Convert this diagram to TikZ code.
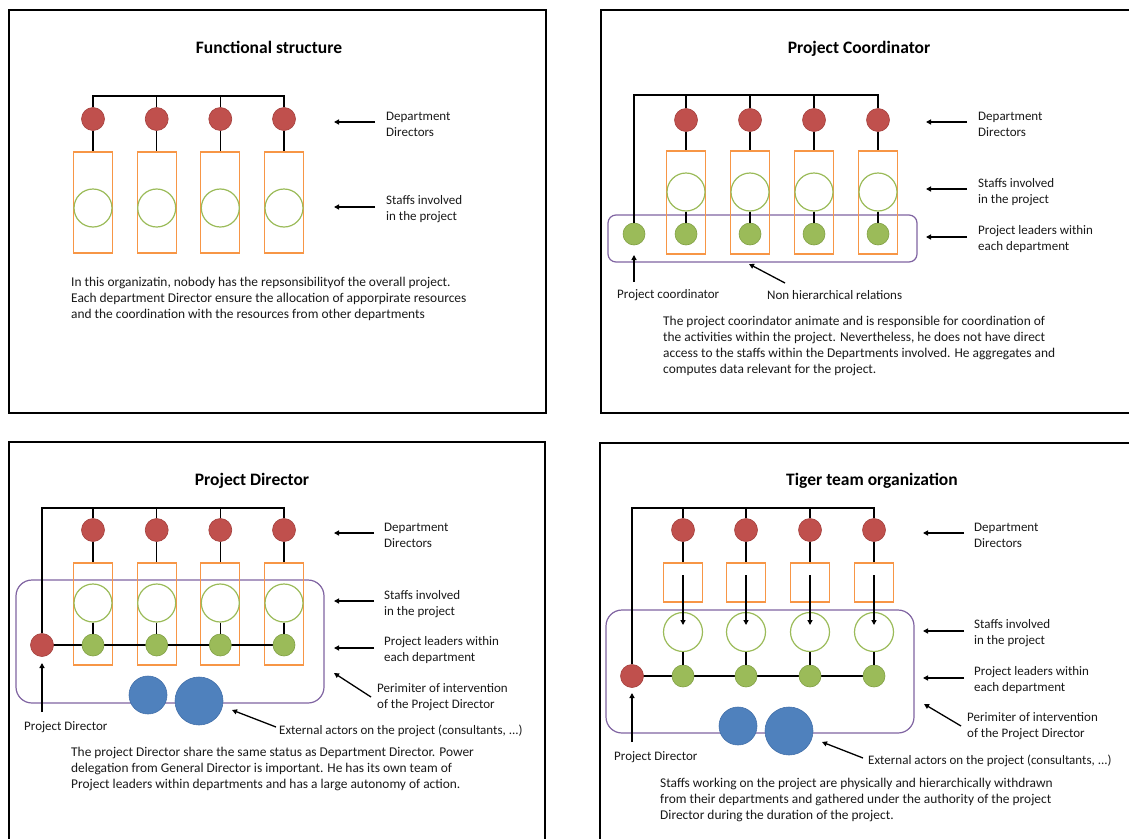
\documentclass[tikz,border=0pt]{standalone}
\usepackage{fontspec}
\setmainfont{Carlito}
\usetikzlibrary{arrows.meta}

\definecolor{dirred}{HTML}{C0504D}
\definecolor{dirredline}{HTML}{A5403D}
\definecolor{leadgreen}{HTML}{9BBB59}
\definecolor{leadline}{HTML}{81A044}
\definecolor{deptorange}{HTML}{F79646}
\definecolor{perimpurple}{HTML}{8064A2}
\definecolor{extblue}{HTML}{4F81BD}
\definecolor{extline}{HTML}{4370AA}

\pgfdeclarelayer{paper}
\pgfdeclarelayer{back}
\pgfdeclarelayer{lines}
\pgfsetlayers{paper,back,lines,main}

\begin{document}
\begin{tikzpicture}[x=1pt,y=-1pt,
  panel/.style={draw=black,line width=1.8pt},
  director/.style={circle,fill=dirred,draw=dirredline,line width=0.6pt,minimum size=23pt,inner sep=0pt},
  leader/.style={circle,fill=leadgreen,draw=leadline,line width=0.6pt,minimum size=22pt,inner sep=0pt},
  staff/.style={circle,draw=leadgreen,line width=1.2pt,minimum size=38pt,inner sep=0pt},
  dept/.style={draw=deptorange,line width=1.2pt,minimum width=39pt,inner sep=0pt},
  perim/.style={draw=perimpurple,line width=1.2pt,inner sep=0pt},
  external/.style={circle,fill=extblue,draw=extline,line width=0.6pt,inner sep=0pt},
  link/.style={line width=1.3pt},
  pointer/.style={line width=1.3pt,-{Triangle[length=5pt,width=5pt]}},
  title/.style={font=\fontsize{17.5}{21}\selectfont\bfseries,inner sep=0pt,text height=12pt,text depth=0pt},
  lbl/.style={font=\fontsize{13}{16}\selectfont,align=left,anchor=west,inner sep=0pt,text=black!90},
  body/.style={lbl,font=\fontsize{13.4}{16}\selectfont},
]
\useasboundingbox (0,0) rectangle (1129,838);
\begin{pgfonlayer}{paper}
  \fill[white] (0,0) rectangle (1129,838);
\end{pgfonlayer}
\clip (0,0) rectangle (1129,838);

% ---------------- Functional structure ----------------
\draw[panel] (9,10) rectangle (546,413);
\node[title] (p1title) at (269,47) {Functional structure};
\coordinate (p1bus) at (0,96);
\foreach \x [count=\i] in {93,156.7,220.3,284} {
  \begin{pgfonlayer}{back}
    \node[dept,minimum height=101pt] (p1dept\i) at (\x,202.5) {};
  \end{pgfonlayer}
  \node[staff] (p1staff\i) at (\x,208) {};
  \node[director] (p1dir\i) at (\x,119) {};
  \draw[link] (p1dir\i) -- (p1dept\i.north);
}
\draw[link] (p1dir1) -- (p1dir1 |- p1bus) -- (p1dir4 |- p1bus) -- (p1dir4);
\draw[link] (p1dir2) -- (p1dir2 |- p1bus);
\draw[link] (p1dir3) -- (p1dir3 |- p1bus);
\node[lbl] (p1lab1) at (386,124) {Department\\Directors};
\node[lbl] (p1lab2) at (386,209) {Staffs involved\\in the project};
\coordinate (p1a1) at (375,122); \coordinate (p1b1) at (334,122);
\coordinate (p1a2) at (375,207); \coordinate (p1b2) at (334,207);
\draw[pointer] (p1a1) -- (p1b1);
\draw[pointer] (p1a2) -- (p1b2);
\node[body] (p1body) at (71,298.5) {In this organizatin, nobody has the repsonsibilityof the overall project.\\Each department Director ensure the allocation of apporpirate resources\\and the coordination with the resources from other departments};

% ---------------- Project Coordinator ----------------
\draw[panel] (601,10) rectangle (1140,413);
\node[title] (p2title) at (859,47) {Project Coordinator};
\coordinate (p2bus) at (0,95);
\begin{pgfonlayer}{back}
  \node[perim,rounded corners=8pt,minimum width=309pt,minimum height=47pt] (p2perim) at (762.5,238.5) {};
\end{pgfonlayer}
\foreach \x [count=\i] in {686,750,814,878} {
  \begin{pgfonlayer}{back}
    \node[dept,minimum height=103pt] (p2dept\i) at (\x,202.5) {};
  \end{pgfonlayer}
  \node[staff] (p2staff\i) at (\x,192) {};
  \node[leader] (p2lead\i) at (\x,234) {};
  \node[director] (p2dir\i) at (\x,120) {};
  \draw[link] (p2dir\i) -- (p2dept\i.north);
  \draw[link] (p2staff\i) -- (p2lead\i);
}
\node[leader] (p2coord) at (634,234) {};
\draw[link] (p2coord) -- (p2coord |- p2bus) -- (p2dir4 |- p2bus) -- (p2dir4);
\foreach \i in {1,2,3} \draw[link] (p2dir\i) -- (p2dir\i |- p2bus);
\node[lbl] (p2lab1) at (978,124) {Department\\Directors};
\node[lbl] (p2lab2) at (978,192) {Staffs involved\\in the project};
\node[lbl] (p2lab3) at (978,239) {Project leaders within\\each department};
\node[lbl] (p2lab4) at (617,295) {Project coordinator};
\node[lbl] (p2lab5) at (767,295) {Non hierarchical relations};
\coordinate (p2a1) at (967,122); \coordinate (p2b1) at (926,122);
\coordinate (p2a2) at (967,189); \coordinate (p2b2) at (926,189);
\coordinate (p2a3) at (967,237); \coordinate (p2b3) at (926,237);
\coordinate (p2a4) at (634,282); \coordinate (p2b4) at (634,255);
\coordinate (p2a5) at (785,283); \coordinate (p2b5) at (749,264);
\foreach \i in {1,...,5} \draw[pointer] (p2a\i) -- (p2b\i);
\node[body] (p2body) at (663,345.5) {The project coorindator animate and is responsible for coordination of\\the activities within the project. Nevertheless, he does not have direct\\access to the staffs within the Departments involved. He aggregates and\\computes data relevant for the project.};

% ---------------- Project Director ----------------
\draw[panel] (9,442) rectangle (545,850);
\node[title] (p3title) at (252,479) {Project Director};
\coordinate (p3bus) at (0,508);
\begin{pgfonlayer}{back}
  \node[perim,rounded corners=16pt,minimum width=308pt,minimum height=123pt] (p3perim) at (170,641.5) {};
\end{pgfonlayer}
\foreach \x [count=\i] in {93,156.7,220.3,284} {
  \begin{pgfonlayer}{back}
    \node[dept,minimum height=102pt] (p3dept\i) at (\x,614) {};
  \end{pgfonlayer}
  \node[staff] (p3staff\i) at (\x,603) {};
  \node[leader] (p3lead\i) at (\x,645) {};
  \node[director] (p3dir\i) at (\x,530) {};
  \draw[link] (p3dir\i) -- (p3dept\i.north);
  \draw[link] (p3staff\i) -- (p3lead\i);
}
\node[director] (p3pd) at (42,645) {};
\draw[link] (p3pd) -- (p3pd |- p3bus) -- (p3dir4 |- p3bus) -- (p3dir4);
\foreach \i in {1,2,3} \draw[link] (p3dir\i) -- (p3dir\i |- p3bus);
\begin{pgfonlayer}{lines}
  \draw[link] (p3pd.center) -- (p3lead4.center);
\end{pgfonlayer}
\node[external,minimum size=38pt] (p3ext1) at (148,695) {};
\node[external,minimum size=48pt] (p3ext2) at (199,701) {};
\node[lbl] (p3lab1) at (384,535.5) {Department\\Directors};
\node[lbl] (p3lab2) at (384,604) {Staffs involved\\in the project};
\node[lbl] (p3lab3) at (384,650) {Project leaders within\\each department};
\node[lbl] (p3lab4) at (377,697) {Perimiter of intervention\\of the Project Director};
\node[lbl] (p3lab5) at (279,731) {External actors on the project (consultants, ...)};
\node[lbl] (p3lab6) at (24,727) {Project Director};
\coordinate (p3a1) at (374,533); \coordinate (p3b1) at (334,533);
\coordinate (p3a2) at (374,601); \coordinate (p3b2) at (334,601);
\coordinate (p3a3) at (374,648); \coordinate (p3b3) at (334,648);
\coordinate (p3a4) at (371,697); \coordinate (p3b4) at (334,673);
\coordinate (p3a5) at (276,727); \coordinate (p3b5) at (232,710);
\coordinate (p3a6) at (42,712);  \coordinate (p3b6) at (42,663);
\foreach \i in {1,...,6} \draw[pointer] (p3a\i) -- (p3b\i);
\node[body] (p3body) at (71,769) {The project Director share the same status as Department Director. Power\\delegation from General Director is important. He has its own team of\\Project leaders within departments and has a large autonomy of action.};

% ---------------- Tiger team organization ----------------
\draw[panel] (600,443) rectangle (1140,850);
\node[title] (p4title) at (872,479) {Tiger team organization};
\coordinate (p4bus) at (0,508);
\begin{pgfonlayer}{back}
  \node[perim,rounded corners=16pt,minimum width=308pt,minimum height=123pt] (p4perim) at (760,671.5) {};
\end{pgfonlayer}
\foreach \x [count=\i] in {683,746,810,874} {
  \begin{pgfonlayer}{back}
    \node[dept,minimum height=39pt] (p4dept\i) at (\x,582.5) {};
  \end{pgfonlayer}
  \node[staff,minimum size=39pt] (p4staff\i) at (\x,632) {};
  \node[leader] (p4lead\i) at (\x,676) {};
  \node[director] (p4dir\i) at (\x,530) {};
  \coordinate (p4in\i) at (\x,575);
  \coordinate (p4to\i) at (\x,625);
  \draw[link] (p4dir\i) -- (p4dept\i.north);
  \draw[pointer] (p4in\i) -- (p4to\i);
  \draw[link] (p4staff\i) -- (p4lead\i);
}
\node[director] (p4pd) at (632,676) {};
\draw[link] (p4pd) -- (p4pd |- p4bus) -- (p4dir4 |- p4bus) -- (p4dir4);
\foreach \i in {1,2,3} \draw[link] (p4dir\i) -- (p4dir\i |- p4bus);
\begin{pgfonlayer}{lines}
  \draw[link] (p4pd.center) -- (p4lead4.center);
\end{pgfonlayer}
\node[external,minimum size=38pt] (p4ext1) at (738,726) {};
\node[external,minimum size=48pt] (p4ext2) at (789,731) {};
\node[lbl] (p4lab1) at (974,535.5) {Department\\Directors};
\node[lbl] (p4lab2) at (974,633) {Staffs involved\\in the project};
\node[lbl] (p4lab3) at (974,680) {Project leaders within\\each department};
\node[lbl] (p4lab4) at (967,726) {Perimiter of intervention\\of the Project Director};
\node[lbl] (p4lab5) at (868,761) {External actors on the project (consultants, ...)};
\node[lbl] (p4lab6) at (614,757) {Project Director};
\coordinate (p4a1) at (964,533); \coordinate (p4b1) at (923,533);
\coordinate (p4a2) at (964,631); \coordinate (p4b2) at (923,631);
\coordinate (p4a3) at (964,678); \coordinate (p4b3) at (923,678);
\coordinate (p4a4) at (961,726); \coordinate (p4b4) at (924,704);
\coordinate (p4a5) at (863,758); \coordinate (p4b5) at (822,742);
\coordinate (p4a6) at (632,742); \coordinate (p4b6) at (632,693);
\foreach \i in {1,...,6} \draw[pointer] (p4a\i) -- (p4b\i);
\node[body] (p4body) at (660,799.5) {Staffs working on the project are physically and hierarchically withdrawn\\from their departments and gathered under the authority of the project\\Director during the duration of the project.};
\end{tikzpicture}
\end{document}
